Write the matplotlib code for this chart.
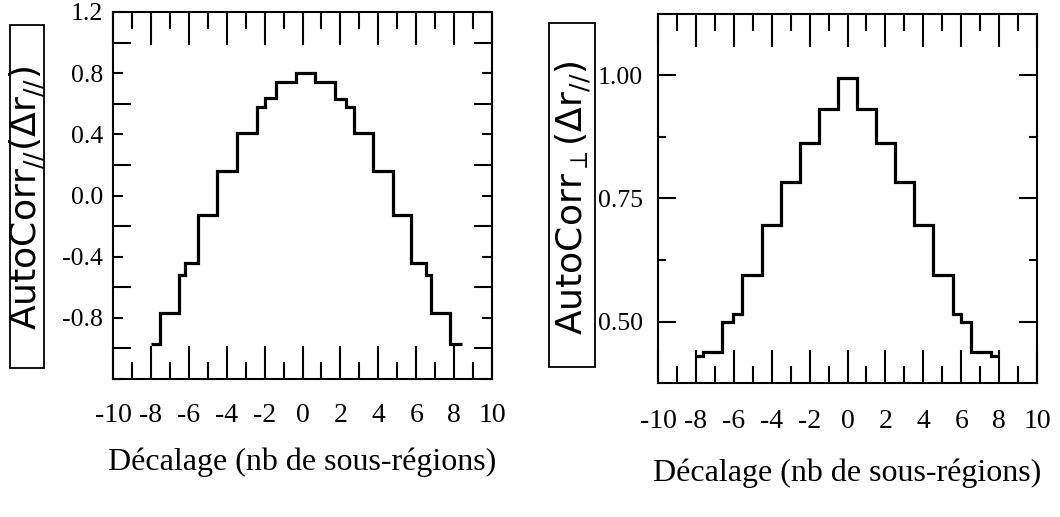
import matplotlib
matplotlib.use("Agg")
import matplotlib.pyplot as plt
from matplotlib.patches import Rectangle

# ---------------- data ----------------
# Left panel: AutoCorr_// step curve (bin edges and levels)
left_edges = [-8.0, -7.5, -6.5, -6.2, -5.5, -4.5, -3.45, -2.4, -2.0, -1.4, -0.35,
              0.65, 1.7, 2.3, 2.7, 3.7, 4.75, 5.75, 6.5, 6.8, 7.8, 8.4]
left_levels = [-0.97, -0.77, -0.52, -0.44, -0.13, 0.16, 0.41, 0.58, 0.64, 0.74, 0.80,
               0.74, 0.63, 0.58, 0.41, 0.16, -0.13, -0.44, -0.52, -0.77, -0.97]

# Right panel: AutoCorr_perp step curve
right_edges = [-8.0, -7.6, -6.6, -6.05, -5.55, -4.5, -3.5, -2.5, -1.5, -0.5, 0.5,
               1.5, 2.5, 3.5, 4.5, 5.55, 6.0, 6.5, 7.55, 8.0]
right_levels = [0.429, 0.439, 0.500, 0.516, 0.595, 0.697, 0.783, 0.862, 0.932, 0.994,
                0.932, 0.862, 0.783, 0.697, 0.595, 0.516, 0.500, 0.439, 0.429]

x_ticks = [-10, -8, -6, -4, -2, 0, 2, 4, 6, 8, 10]
x_ticklabels = ["-10", "-8", "-6", "-4", "-2", "0", "2", "4", "6", "8", "10"]
x_minor = [-9, -7, -5, -3, -1, 1, 3, 5, 7, 9]

left_yticks = [-1.2, -0.8, -0.4, 0.0, 0.4, 0.8, 1.2]
left_yticklabels = ["", "-0.8", "-0.4", "0.0", "0.4", "0.8", "1.2"]
left_yminor = [-1.0, -0.6, -0.2, 0.2, 0.6, 1.0]

right_yticks = [0.50, 0.75, 1.00]
right_yticklabels = ["0.50", "0.75", "1.00"]
right_yminor = [0.625, 0.875]

xlabel_text = "Décalage (nb de sous-régions)"
left_ylabel = r"AutoCorr$_{//}$($\Delta$r$_{//}$)"
right_ylabel = r"AutoCorr$_{\perp}$($\Delta$r$_{//}$)"

# ---------------- figure ----------------
W, H = 1060, 517
fig = plt.figure(figsize=(W / 100, H / 100), dpi=100)
plt.rcParams["mathtext.fontset"] = "dejavusans"


def rect(x0, y0, x1, y1):
    return [x0 / W, 1 - y1 / H, (x1 - x0) / W, (y1 - y0) / H]


serif = "Liberation Serif"
xtick_fs = 20
ytick_fs = 18.5


def style_axes(ax, xpad, ypad, ymaj_len, ymin_len):
    for s in ax.spines.values():
        s.set_linewidth(1.5)
    ax.set_xlim(-10, 10)
    ax.set_xticks(x_ticks, labels=x_ticklabels)
    ax.set_xticks(x_minor, minor=True)
    ax.tick_params(axis="x", which="major", direction="in", length=24, width=1.5,
                   top=True, bottom=True, pad=xpad)
    ax.tick_params(axis="x", which="minor", direction="in", length=12, width=1.5,
                   top=True, bottom=True)
    ax.tick_params(axis="y", which="major", direction="in", length=ymaj_len, width=1.5,
                   left=True, right=True, pad=ypad)
    ax.tick_params(axis="y", which="minor", direction="in", length=ymin_len, width=1.5,
                   left=True, right=True)
    for lab in ax.get_xticklabels():
        lab.set_fontfamily(serif)
        lab.set_fontsize(xtick_fs)
    for lab in ax.get_yticklabels():
        lab.set_fontfamily(serif)
        lab.set_fontsize(ytick_fs)


# ---- left panel ----
ax1 = fig.add_axes(rect(113, 12, 492, 379))
ax1.stairs(left_levels, left_edges, baseline=None, color="black", linewidth=2.3)
ax1.set_ylim(-1.2, 1.2)
ax1.set_yticks(left_yticks, labels=left_yticklabels)
ax1.set_yticks(left_yminor, minor=True)
style_axes(ax1, xpad=17, ypad=7, ymaj_len=7, ymin_len=13)
ax1.set_xlabel(xlabel_text, fontfamily=serif, fontsize=23, labelpad=14)

# ---- right panel ----
ax2 = fig.add_axes(rect(658, 14, 1037, 383))
ax2.stairs(right_levels, right_edges, baseline=None, color="black", linewidth=2.3)
ax2.set_ylim(0.375, 1.125)
ax2.set_yticks(right_yticks, labels=right_yticklabels)
ax2.set_yticks(right_yminor, minor=True)
style_axes(ax2, xpad=19, ypad=11, ymaj_len=13, ymin_len=6)
ax2.set_xlabel(xlabel_text, fontfamily=serif, fontsize=23, labelpad=17)

# ---- boxed y labels ----
def boxed_label(x0, y0, x1, y1, text, tx, ty):
    fig.patches.append(Rectangle((x0 / W, 1 - y1 / H), (x1 - x0) / W, (y1 - y0) / H,
                                 transform=fig.transFigure, fill=False,
                                 edgecolor="black", linewidth=1.3))
    fig.text(tx / W, 1 - ty / H, text, rotation=90, ha="center",
             va="center", fontsize=26, fontfamily="DejaVu Sans")


boxed_label(10, 25, 44, 368, left_ylabel, 27, 198)
boxed_label(549, 23, 595, 367, right_ylabel, 573, 198)

fig.savefig("out.png", dpi=100)
